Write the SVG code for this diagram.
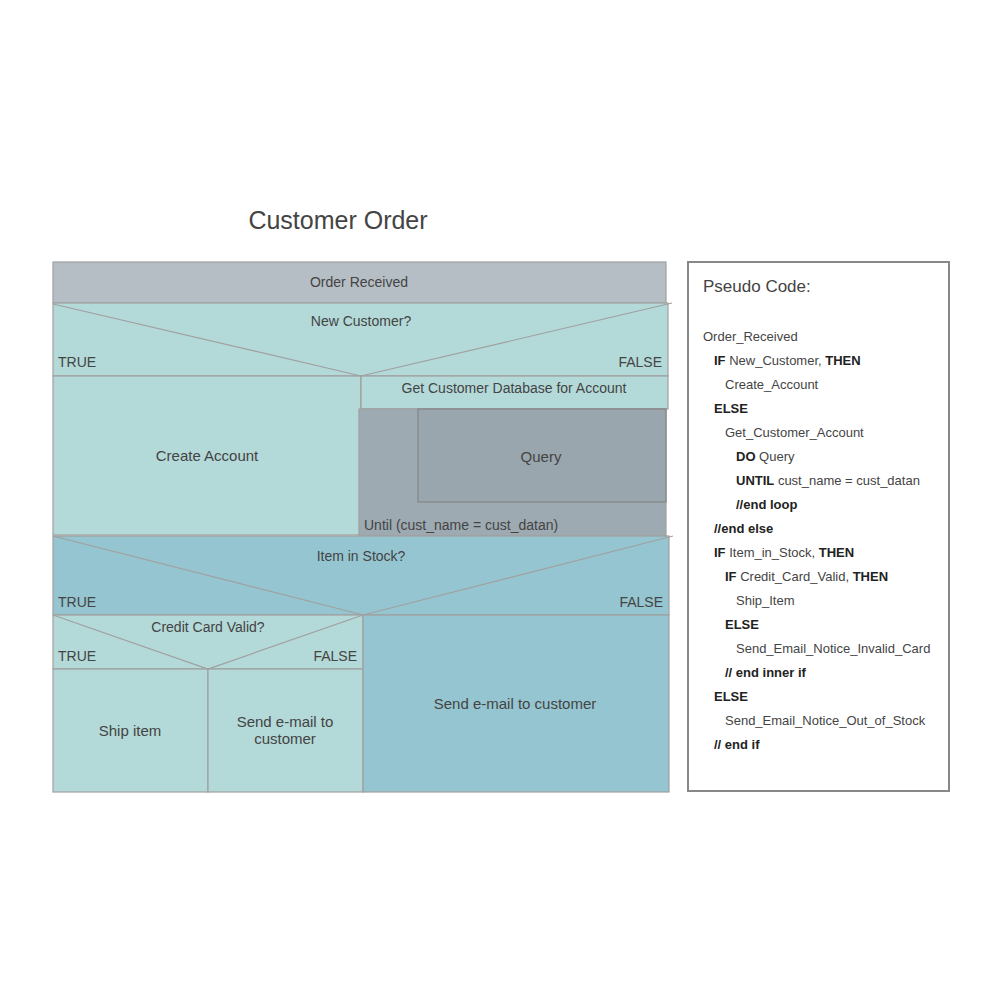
<svg xmlns="http://www.w3.org/2000/svg" width="1000" height="1000" viewBox="0 0 1000 1000">
<style>
text{font-family:"Liberation Sans",Arial,sans-serif;fill:#444}
.box{stroke:#a0a0a0;stroke-width:1.2}
.lt{fill:#b3d9d8}
.dk{fill:#95c5d0}
.gr{fill:#9eaab1}
.lbl{font-size:14px}
.c{text-anchor:middle}
.r{text-anchor:end}
.ln{stroke:#a0a0a0;stroke-width:1.2;fill:none}
.pc{font-size:13px}
.b{font-weight:bold;fill:#222}
</style>
<rect width="1000" height="1000" fill="#fff"/>
<text x="338" y="229" class="c" font-size="25">Customer Order</text>

<g id="order-received">
<rect class="box" x="53" y="262" width="613" height="41" fill="#b5bec5"/>
<text x="359" y="287" class="c lbl">Order Received</text>
</g>

<g id="new-customer">
<rect class="box lt" x="53" y="303" width="615" height="73"/>
<text x="361" y="326" class="c lbl">New Customer?</text>
<text x="58" y="367" class="lbl">TRUE</text>
<text x="662" y="367" class="r lbl">FALSE</text>
</g>

<g id="create-account">
<rect class="box lt" x="53" y="376" width="308" height="159"/>
<text x="207" y="461" class="c" font-size="15">Create Account</text>
</g>

<g id="get-customer">
<rect class="box lt" x="361" y="376" width="307" height="33"/>
<text x="514" y="393" class="c lbl">Get Customer Database for Account</text>
</g>

<g id="loop">
<rect class="box gr" x="359" y="409" width="307" height="127" stroke="#909090"/>
<text x="364" y="530" class="lbl">Until (cust_name = cust_datan)</text>
</g>

<g id="query">
<rect x="418" y="409" width="248" height="93" fill="#9aa6ae" stroke="#858585" stroke-width="1.2"/>
<text x="541" y="462" class="c" font-size="15">Query</text>
</g>

<g id="item-in-stock">
<rect class="box dk" x="53" y="536" width="616" height="79"/>
<text x="361" y="561" class="c lbl">Item in Stock?</text>
<text x="58" y="607" class="lbl">TRUE</text>
<text x="663" y="607" class="r lbl">FALSE</text>
</g>

<g id="credit-card">
<rect class="box lt" x="53" y="615" width="310" height="54"/>
<text x="208" y="632" class="c lbl">Credit Card Valid?</text>
<text x="58" y="661" class="lbl">TRUE</text>
<text x="357" y="661" class="r lbl">FALSE</text>
</g>

<g id="ship-item">
<rect class="box lt" x="53" y="669" width="155" height="123"/>
<text x="130" y="736" class="c" font-size="15">Ship item</text>
</g>

<g id="send-email-invalid">
<rect class="box lt" x="208" y="669" width="155" height="123"/>
<text x="285" y="727" class="c" font-size="15">Send e-mail to</text>
<text x="285" y="744" class="c" font-size="15">customer</text>
</g>

<g id="send-email-stock">
<rect class="box dk" x="363" y="615" width="306" height="177"/>
<text x="515" y="709" class="c" font-size="15">Send e-mail to customer</text>
</g>

<g id="connectors">
<polyline class="ln" points="53,304 361,376 672,303"/>
<polyline class="ln" points="53,536 363,615 673,536"/>
<polyline class="ln" points="53,615 208,669 363,615"/>
</g>

<g id="pseudo-code">
<rect x="688" y="262" width="261" height="529" fill="#fff" stroke="#888" stroke-width="2"/>
<text x="703" y="292" font-size="17">Pseudo Code:</text>
<text class="pc" x="703" y="341">Order_Received</text>
<text class="pc" x="714" y="365"><tspan class="b">IF</tspan> New_Customer, <tspan class="b">THEN</tspan></text>
<text class="pc" x="725" y="389">Create_Account</text>
<text class="pc b" x="714" y="413">ELSE</text>
<text class="pc" x="725" y="437">Get_Customer_Account</text>
<text class="pc" x="736" y="461"><tspan class="b">DO</tspan> Query</text>
<text class="pc" x="736" y="485"><tspan class="b">UNTIL</tspan> cust_name = cust_datan</text>
<text class="pc b" x="736" y="509">//end loop</text>
<text class="pc b" x="714" y="533">//end else</text>
<text class="pc" x="714" y="557"><tspan class="b">IF</tspan> Item_in_Stock, <tspan class="b">THEN</tspan></text>
<text class="pc" x="725" y="581"><tspan class="b">IF</tspan> Credit_Card_Valid, <tspan class="b">THEN</tspan></text>
<text class="pc" x="736" y="605">Ship_Item</text>
<text class="pc b" x="725" y="629">ELSE</text>
<text class="pc" x="736" y="653">Send_Email_Notice_Invalid_Card</text>
<text class="pc b" x="725" y="677">// end inner if</text>
<text class="pc b" x="714" y="701">ELSE</text>
<text class="pc" x="725" y="725">Send_Email_Notice_Out_of_Stock</text>
<text class="pc b" x="714" y="749">// end if</text>
</g>
</svg>
